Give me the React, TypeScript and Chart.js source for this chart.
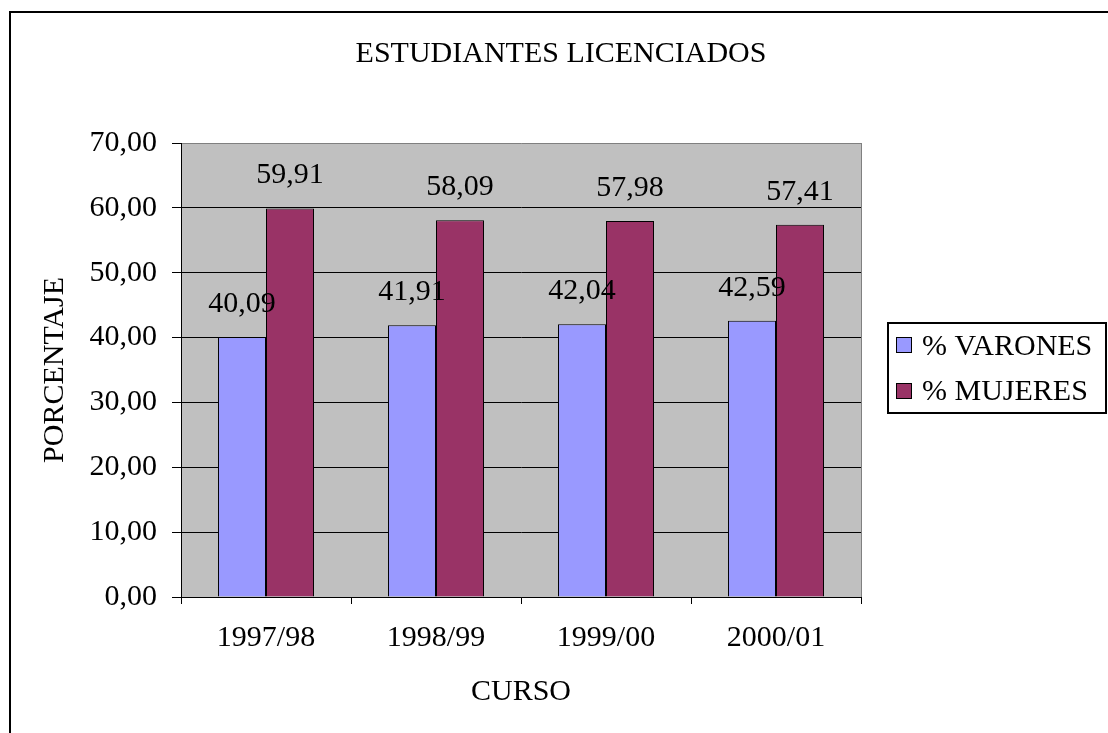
import React, { useEffect, useRef } from 'react';
import { Chart, registerables } from 'chart.js';

Chart.register(...registerables);

const TITLE = 'ESTUDIANTES LICENCIADOS';
const X_TITLE = 'CURSO';
const Y_TITLE = 'PORCENTAJE';
const categories = ['1997/98', '1998/99', '1999/00', '2000/01'];
const seriesLabels = ['% VARONES', '% MUJERES'];
const varones = [40.09, 41.91, 42.04, 42.59];
const mujeres = [59.91, 58.09, 57.98, 57.41];
const seriesColors = ['#9999FF', '#993366'];
const yMin = 0;
const yMax = 70;
const yStep = 10;

const FONT = '"Liberation Serif", "Times New Roman", serif';
const fmt = (v: number) => v.toFixed(2).replace('.', ',');

const decorPlugin = {
  id: 'decor',
  beforeDraw(chart: any) {
    const { ctx, chartArea: a } = chart;
    ctx.save();
    ctx.fillStyle = '#FFFFFF';
    ctx.fillRect(0, 0, chart.width, chart.height);
    // outer frame
    ctx.strokeStyle = '#000000';
    ctx.lineWidth = 2;
    ctx.strokeRect(10, 12, 1200, 900);
    // plot area
    ctx.fillStyle = '#C0C0C0';
    ctx.fillRect(a.left, a.top, a.right - a.left, a.bottom - a.top);
    ctx.restore();
  },
  afterDatasetsDraw(chart: any) {
    const { ctx, chartArea: a } = chart;
    ctx.save();
    // plot border right
    ctx.strokeStyle = '#808080';
    ctx.lineWidth = 1;
    ctx.beginPath();
    ctx.moveTo(Math.round(a.right) + 0.5, a.top);
    ctx.lineTo(Math.round(a.right) + 0.5, a.bottom);
    ctx.stroke();
    // data labels
    ctx.fillStyle = '#000000';
    ctx.font = `30px ${FONT}`;
    ctx.textAlign = 'center';
    ctx.textBaseline = 'alphabetic';
    chart.data.datasets.forEach((ds: any, di: number) => {
      const meta = chart.getDatasetMeta(di);
      meta.data.forEach((bar: any, i: number) => {
        ctx.fillText(fmt(ds.data[i]), bar.x, bar.y - 25);
      });
    });
    ctx.restore();
  },
  afterDraw(chart: any) {
    const { ctx } = chart;
    ctx.save();
    // title
    ctx.fillStyle = '#000000';
    ctx.font = `30px ${FONT}`;
    ctx.textAlign = 'center';
    ctx.textBaseline = 'middle';
    ctx.fillText(TITLE, 561, 54);
    // legend
    const lx = 888, ly = 323, lw = 218, lh = 90;
    ctx.strokeStyle = '#000000';
    ctx.lineWidth = 2;
    ctx.strokeRect(lx, ly, lw, lh);
    ctx.textAlign = 'left';
    ctx.textBaseline = 'alphabetic';
    chart.data.datasets.forEach((ds: any, di: number) => {
      const sy = 337 + di * 46;
      ctx.fillStyle = ds.backgroundColor;
      ctx.fillRect(896, sy, 16, 16);
      ctx.lineWidth = 1;
      ctx.strokeRect(896.5, sy + 0.5, 15, 15);
      ctx.fillStyle = '#000000';
      ctx.fillText(ds.label, 922, 355 + di * 45);
    });
    ctx.restore();
  },
};

export default function App() {
  const ref = useRef<HTMLCanvasElement>(null);
  useEffect(() => {
    if (!ref.current) return;
    const chart = new Chart(ref.current, {
      type: 'bar',
      data: {
        labels: categories,
        datasets: [
          {
            label: seriesLabels[0],
            data: varones,
            backgroundColor: seriesColors[0],
            borderColor: '#000000',
            borderWidth: 1,
            categoryPercentage: 0.565,
            barPercentage: 1,
          },
          {
            label: seriesLabels[1],
            data: mujeres,
            backgroundColor: seriesColors[1],
            borderColor: '#000000',
            borderWidth: 1,
            categoryPercentage: 0.565,
            barPercentage: 1,
          },
        ],
      },
      options: {
        responsive: false,
        animation: false,
        devicePixelRatio: 1,
        layout: { padding: { left: 0, top: 143, right: 247, bottom: 0 } },
        plugins: {
          legend: { display: false },
          title: { display: false },
          tooltip: { enabled: false },
        },
        scales: {
          x: {
            grid: {
              offset: true,
              drawOnChartArea: false,
              drawTicks: true,
              tickLength: 7,
              color: '#000000',
              tickColor: '#000000',
            },
            border: { display: true, color: '#000000', width: 1 },
            ticks: {
              color: '#000000',
              padding: 16,
              font: { family: FONT, size: 30 },
            },
            title: {
              display: true,
              text: X_TITLE,
              color: '#000000',
              font: { family: FONT, size: 30 },
              padding: { top: 0, bottom: 23 },
            },
            afterFit(scale: any) {
              scale.height = 136;
            },
          },
          y: {
            min: yMin,
            max: yMax,
            grid: {
              color: (c: any) => (c.tick && c.tick.value === yMax ? '#808080' : '#000000'),
              tickColor: '#000000',
              tickLength: 9,
              lineWidth: 1,
            },
            border: { display: true, color: '#000000', width: 1 },
            ticks: {
              stepSize: yStep,
              color: '#000000',
              padding: 15,
              font: { family: FONT, size: 30 },
              callback: (v: any) => fmt(Number(v)),
            },
            title: {
              display: true,
              text: Y_TITLE,
              color: '#000000',
              font: { family: FONT, size: 30 },
              padding: { top: 37, bottom: 0 },
            },
            afterFit(scale: any) {
              scale.width = 181;
            },
          },
        },
      },
      plugins: [decorPlugin],
    });
    return () => chart.destroy();
  }, []);
  return (
    <canvas
      ref={ref}
      width={1108}
      height={733}
      style={{ position: 'absolute', left: 0, top: 0, display: 'block' }}
    />
  );
}
